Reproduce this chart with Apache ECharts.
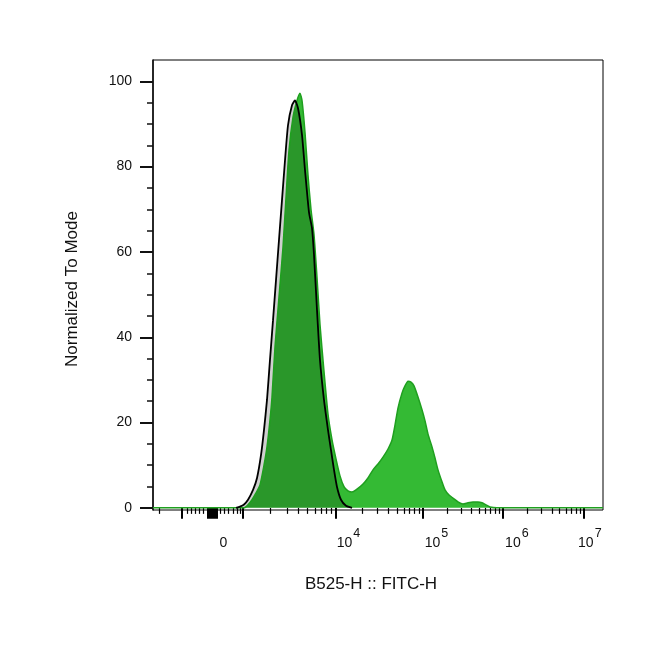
<!DOCTYPE html>
<html><head><meta charset="utf-8">
<script src="https://cdn.jsdelivr.net/npm/echarts@6/dist/echarts.min.js"></script>
<style>html,body{margin:0;padding:0;background:#fff}#c{width:664px;height:654px}</style>
</head><body><div id="c"></div>
<script>
// X values are display channels (0-1024) of the biexponential B525-H :: FITC-H axis
const greenX = [0, 207.1, 216.2, 225.3, 234.4, 243.5, 252.6, 259.4, 266.2, 270.8, 277.6, 286.7, 295.8, 302.7, 309.5, 318.6, 327.7, 334.5, 339.1, 345.9, 352.7, 359.5, 366.4, 373.2, 380.0, 389.1, 398.2, 407.3, 416.4, 425.5, 434.6, 443.7, 452.8, 461.9, 477.9, 489.2, 500.6, 512.0, 523.4, 534.8, 543.9, 550.7, 557.5, 566.6, 573.4, 580.3, 587.1, 593.9, 603.0, 612.1, 619.0, 625.8, 634.9, 641.7, 648.5, 657.6, 664.5, 673.6, 682.7, 694.0, 705.4, 716.8, 728.2, 739.6, 748.7, 757.8, 766.9, 782.8, 1024];
const greenY = [0, 0, 0.7, 1.9, 3.5, 5.4, 10, 14.3, 20.6, 26, 37.7, 49.4, 61.1, 72.8, 83.8, 91.6, 95.5, 97.2, 95.5, 88, 78, 70, 64, 54, 43, 32, 22, 16, 11.5, 7.5, 5, 4, 3.7, 4.2, 5.6, 7, 8.9, 10.3, 11.9, 13.8, 15.9, 19.4, 23.4, 26.9, 28.6, 29.7, 29.5, 28.6, 26, 23, 20.4, 17.3, 14.3, 11.7, 8.9, 6.1, 4.2, 3, 2.3, 1.4, 0.9, 1.2, 1.4, 1.4, 1.2, 0.7, 0.2, 0, 0];
const blackX = [188.9, 198.0, 207.1, 216.2, 227.6, 236.7, 245.8, 252.6, 259.4, 266.2, 273.1, 279.9, 286.7, 293.5, 300.4, 307.2, 316.3, 323.1, 330.0, 339.1, 345.9, 355.0, 361.8, 366.4, 373.2, 380.0, 389.1, 398.2, 405.0, 411.9, 418.7, 427.8, 439.2, 452.9];
const blackY = [0, 0.3, 0.8, 1.9, 4.2, 7, 12.4, 18.3, 25.3, 34.7, 44, 53.4, 62.8, 72.1, 81.5, 89.7, 94.4, 95.5, 93.7, 87.4, 79.2, 69.3, 65.6, 59.3, 46.4, 34.7, 25.3, 18.3, 13.6, 8.9, 4.9, 1.9, 0.5, 0];

const xMajorTicks = [66, 125, 127.5, 130, 132.5, 135, 137.5, 140, 142.5, 145, 204.8, 416.4, 614.4, 796.4, 980.8];
const xMinorTicks = [13.7, 77.4, 86.5, 95.6, 104.7, 113.8, 152.5, 161.6, 170.7, 182.0, 191.1, 197.9,
  266.2, 304.9, 330.0, 350.4, 368.6, 382.3, 393.7, 405.0,
  475.6, 510.9, 534.8, 555.2, 571.1, 583.6, 595.2, 605.2,
  669.3, 701.3, 724.1, 742.1, 756.2, 768.2, 778.7, 787.8,
  851.9, 884.2, 907.5, 924.8, 939.8, 952.3, 962.8, 972.4];
const xLabelPos = [165, 445, 645, 828, 994];
const xLabelBase = ['0', '10', '10', '10', '10'];
const xLabelExp = ['', '4', '5', '6', '7'];
const yMajor = [0, 20, 40, 60, 80, 100];
const yMinor = [5, 10, 15, 25, 30, 35, 45, 50, 55, 65, 70, 75, 85, 90, 95];

const FONT = '"Liberation Sans", Arial, sans-serif';
const TXT = '#111';

const chart = echarts.init(document.getElementById('c'), null, {renderer: 'canvas'});
const zip = (xs, ys) => xs.map((x, i) => [x, ys[i]]);

const xBase = {
  type: 'value', min: 0, max: 1024, position: 'bottom', offset: 1,
  axisLine: {show: false}, splitLine: {show: false}
};
const yBase = {
  type: 'value', min: -0.5, max: 105, position: 'left',
  splitLine: {show: false}
};

chart.setOption({
  animation: false,
  backgroundColor: '#fff',
  grid: {left: 153, right: 61, top: 60, bottom: 144, show: true, borderColor: '#000', borderWidth: 1},
  xAxis: [
    Object.assign({}, xBase, {
      axisTick: {show: true, customValues: xMajorTicks, length: 11, lineStyle: {color: '#000', width: 2}},
      axisLabel: {show: false}
    }),
    Object.assign({}, xBase, {
      axisTick: {show: true, customValues: xMinorTicks, length: 6, lineStyle: {color: '#000', width: 1.2}},
      axisLabel: {
        show: true, customValues: xLabelPos, margin: 16,
        formatter: (v, i) => {
          const k = xLabelPos.indexOf(v);
          const idx = k >= 0 ? k : i;
          return '{b|' + xLabelBase[idx] + '}{s|' + (xLabelExp[idx] || ' ') + '}';
        },
        rich: {
          b: {fontSize: 14, fontFamily: FONT, color: TXT, verticalAlign: 'bottom'},
          s: {fontSize: 12.5, fontFamily: FONT, color: TXT, verticalAlign: 'bottom', padding: [0, 0, 10, 1]}
        }
      }
    })
  ],
  yAxis: [
    Object.assign({}, yBase, {
      axisLine: {show: true, lineStyle: {color: '#111', width: 1.6}},
      axisTick: {show: true, customValues: yMajor, length: 13, lineStyle: {color: '#111', width: 2}},
      axisLabel: {show: true, customValues: yMajor, margin: 21, fontSize: 14, fontFamily: FONT, color: TXT}
    }),
    Object.assign({}, yBase, {
      axisLine: {show: false},
      axisTick: {show: true, customValues: yMinor, length: 6, lineStyle: {color: '#111', width: 1.5}},
      axisLabel: {show: false}
    })
  ],
  series: [
    {
      type: 'line', xAxisIndex: 0, yAxisIndex: 0, data: zip(greenX, greenY),
      showSymbol: false, smooth: 0.2,
      lineStyle: {color: '#1f9f1f', width: 1.5},
      areaStyle: {color: 'rgb(52,186,52)', opacity: 1}
    },
    {
      type: 'line', xAxisIndex: 0, yAxisIndex: 0, data: zip(blackX, blackY),
      showSymbol: false, smooth: 0.2,
      lineStyle: {color: '#000', width: 1.8},
      areaStyle: {color: 'rgba(0,0,0,0.19)', opacity: 1}
    }
  ],
  graphic: [
    {type: 'text', x: 371, y: 584, style: {text: 'B525-H :: FITC-H', font: '17px ' + FONT, fill: TXT, textAlign: 'center', textVerticalAlign: 'middle'}},
    {type: 'text', x: 72, y: 289, rotation: Math.PI / 2, style: {text: 'Normalized To Mode', font: '17px ' + FONT, fill: TXT, textAlign: 'center', textVerticalAlign: 'middle'}}
  ]
});
</script></body></html>
